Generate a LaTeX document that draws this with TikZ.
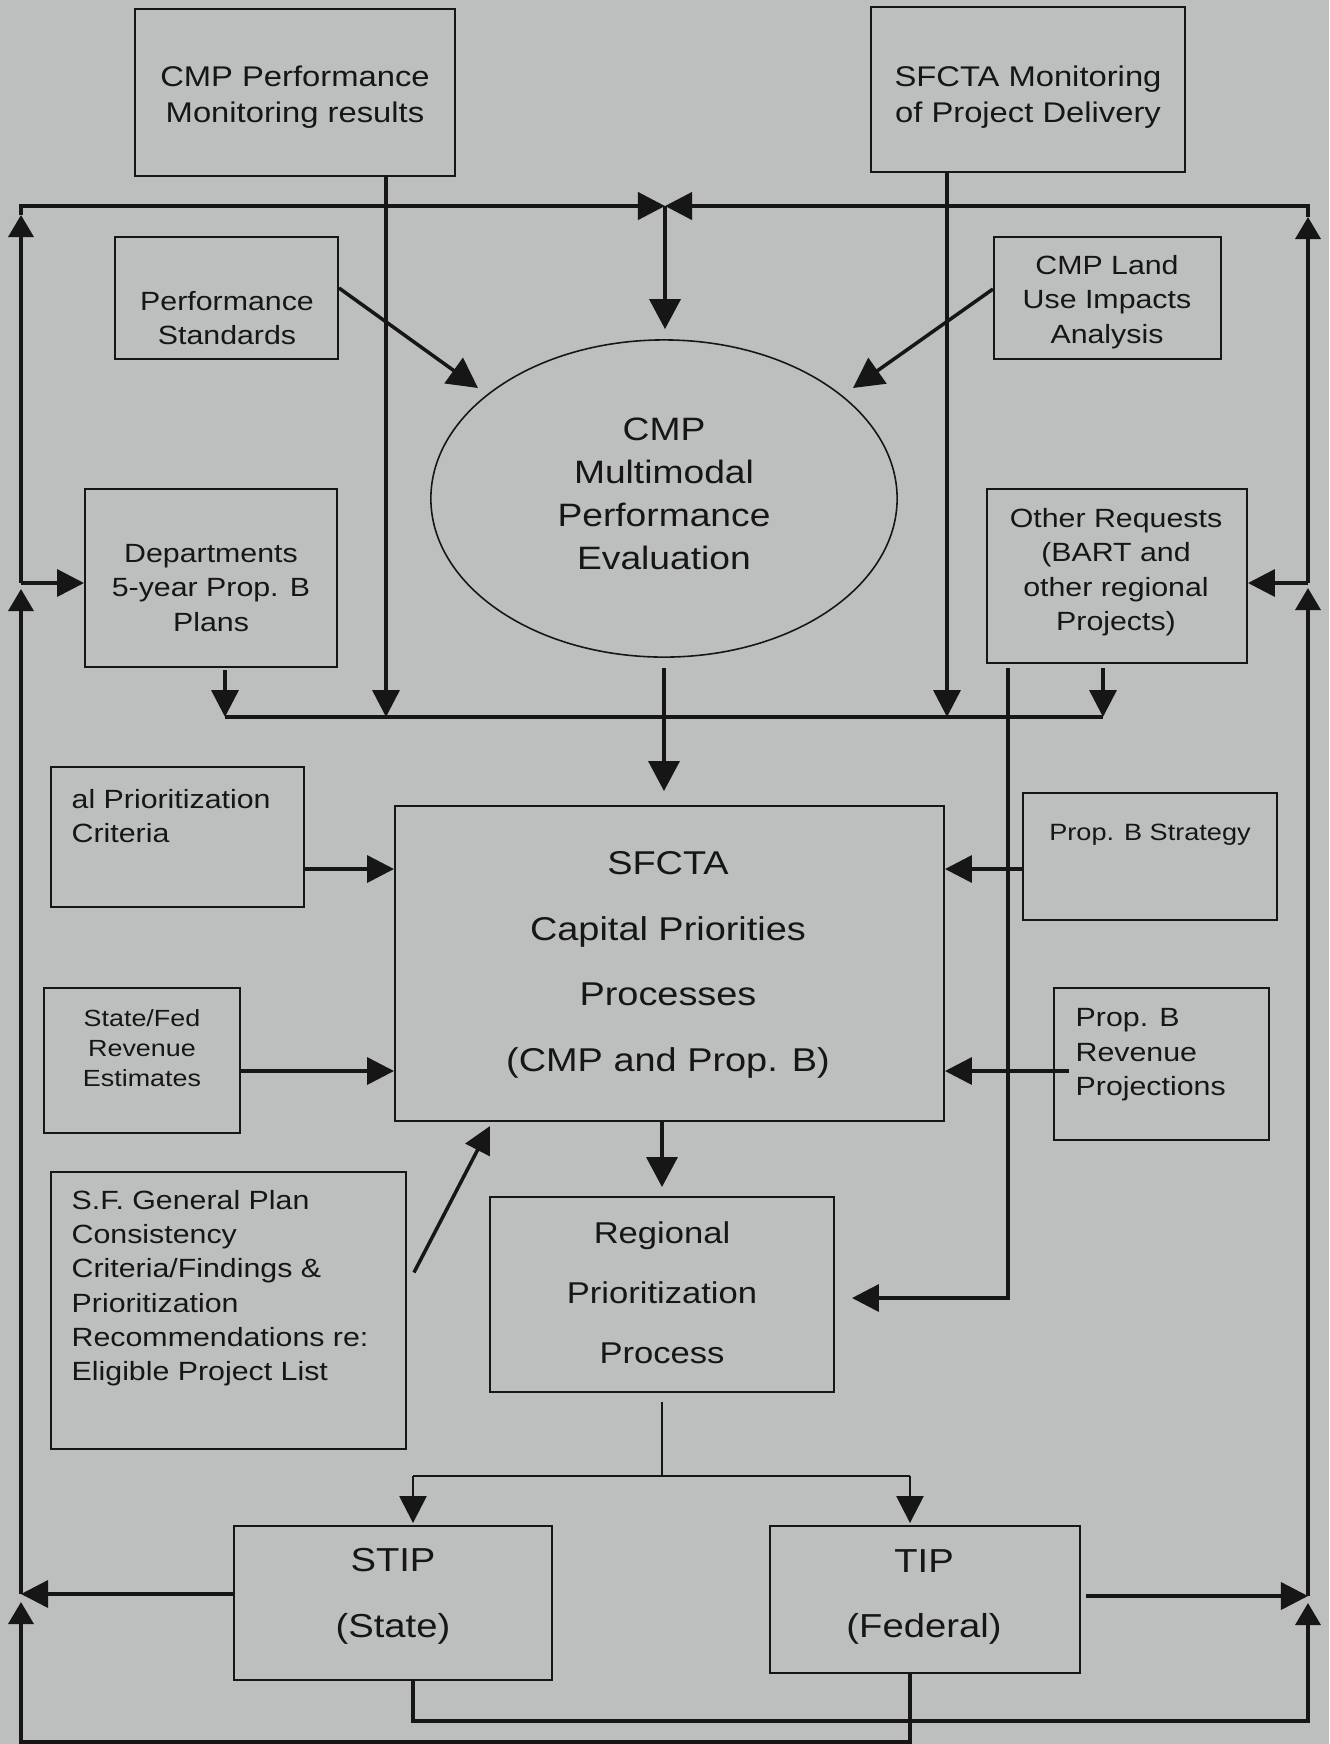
\documentclass[tikz,border=0pt]{standalone}
\usepackage{fontspec}
\setmainfont{Liberation Sans}[FakeStretch=1.15]
\usetikzlibrary{arrows.meta,calc,fit,shapes.geometric}
\definecolor{bgc}{RGB}{189,190,190}
\definecolor{ink}{RGB}{22,22,22}
\newcommand{\setfs}[2]{\fontsize{#1}{#2}\selectfont}
\begin{document}
\begin{tikzpicture}[x=0.01cm,y=-0.01cm,
  box/.style={draw=ink,line width=0.55pt,inner sep=0pt},
  txt/.style={inner sep=0pt,text=ink,align=center},
  conn/.style={draw=ink,line width=1pt},
  topconn/.style={draw=ink,line width=1.15pt},
  thinconn/.style={draw=ink,line width=0.75pt},
  arr/.style={-{Triangle[length=0.27cm,width=0.27cm]}},
  uparr/.style={-{Triangle[length=0.22cm,width=0.25cm]}},
  bigarr/.style={-{Triangle[length=0.30cm,width=0.31cm]}}]

\fill[bgc] (0,0) rectangle (1329,1744);
\useasboundingbox (0,0) rectangle (1329,1744);

% ---------- boxes ----------
\node[box,fit={(135,9)(455,176)}] (b1) {};
\node[box,fit={(871,7)(1185,172)}] (b2) {};
\node[box,fit={(115,237)(338,359)}] (b3) {};
\node[box,fit={(994,237)(1221,359)}] (b4) {};
\node[box,ellipse,line width=0.45pt,minimum width=4.66cm,minimum height=3.17cm] (ell) at (664,498.5) {};
\node[box,fit={(85,489)(337,667)}] (b6) {};
\node[box,fit={(987,489)(1247,663)}] (b7) {};
\node[box,fit={(51,767)(304,907)}] (b8) {};
\node[box,fit={(395,806)(944,1121)}] (b9) {};
\node[box,fit={(1023,793)(1277,920)}] (b10) {};
\node[box,fit={(44,988)(240,1133)}] (b11) {};
\node[box,fit={(1054,988)(1269,1140)}] (b12) {};
\node[box,fit={(51,1172)(406,1449)}] (b13) {};
\node[box,fit={(490,1197)(834,1392)}] (b14) {};
\node[box,fit={(234,1526)(552,1680)}] (b15) {};
\node[box,fit={(770,1526)(1080,1673)}] (b16) {};

% ---------- texts ----------
\node[txt,font=\setfs{8.1}{10.3}] (t1) at (295,97) {CMP Performance\\Monitoring results};
\node[txt,font=\setfs{8.1}{10.3}] (t2) at (1028,97) {SFCTA Monitoring\\of Project Delivery};
\node[txt,font=\setfs{7.5}{9.8}] (t3) at (227,318) {Performance\\Standards};
\node[txt,font=\setfs{7.5}{9.8}] (t4) at (1107,302) {CMP Land\\Use Impacts\\Analysis};
\node[txt,font=\setfs{9.2}{12.24}] (t5) at (664,494) {CMP\\Multimodal\\Performance\\Evaluation};
\node[txt,font=\setfs{7.5}{9.8}] (t6) at (211,588) {Departments\\5-year Prop. B\\Plans};
\node[txt,font=\setfs{7.5}{9.8}] (t7) at (1116,572) {Other Requests\\(BART and\\other regional\\Projects)};
\node[txt,align=left,anchor=west,font=\setfs{7.5}{9.8}] (t8) at (71,816) {al Prioritization\\Criteria};
\node[txt,font=\setfs{9.37}{18.67}] (t9) at (668,965) {SFCTA\\Capital Priorities\\Processes\\(CMP and Prop. B)};
\node[txt,font=\setfs{6.7}{8.5}] (t10) at (1150,835) {Prop. B Strategy};
\node[txt,font=\setfs{6.65}{8.54}] (t11) at (142,1048) {State/Fed\\Revenue\\Estimates};
\node[txt,align=left,anchor=west,font=\setfs{7.5}{9.8}] (t12) at (1075,1055) {Prop. B\\Revenue\\Projections};
\node[txt,align=left,anchor=west,font=\setfs{7.5}{9.76}] (t13) at (71,1288) {S.F. General Plan\\Consistency\\Criteria/Findings \&\\Prioritization\\Recommendations re:\\Eligible Project List};
\node[txt,font=\setfs{8.55}{17.07}] (t14) at (662,1293) {Regional\\Prioritization\\Process};
\node[txt,font=\setfs{9.45}{18.67}] (t15) at (393,1596) {STIP\\(State)};
\node[txt,font=\setfs{9.45}{18.67}] (t16) at (924,1597) {TIP\\(Federal)};

% ---------- named points ----------
\coordinate (ltop) at (21,206);
\coordinate (rtop) at (1308,206);
\coordinate (topmid) at (665,206);
\coordinate (lmid) at (21,583);
\coordinate (rmid) at (1308,583);
\coordinate (llow) at (21,1594);
\coordinate (rlow) at (1308,1596);
\coordinate (lbot) at (21,1742);
\coordinate (rbot) at (1308,1721);
\coordinate (v1) at (386,717);
\coordinate (v2) at (947,717);
\coordinate (v3) at (225,717);
\coordinate (v4) at (1103,717);
\coordinate (v5) at (1008,1298);
\coordinate (r1) at (0,869);
\coordinate (r2) at (0,1071);
\coordinate (r2s) at ($(b12.west |- r2)+(16,0)$);
\coordinate (e1) at (478,388);
\coordinate (e2) at (853,388);
\coordinate (sft) at (490,1126);
\coordinate (d1) at (413,1476);
\coordinate (d2) at (910,1476);

% ---------- top feedback loop ----------
\draw[conn,uparr] (lmid) -- ($(ltop)+(0,9)$);
\draw[topconn,arr] ($(ltop)+(0,9)$) -- (ltop) -- (topmid);
\draw[conn,uparr] (rmid) -- ($(rtop)+(0,11)$);
\draw[topconn,arr] ($(rtop)+(0,11)$) -- (rtop) -- (topmid);
\draw[conn,bigarr,shorten >=0.1cm] (topmid) -- (topmid |- ell.north);

% ---------- inputs to the ellipse ----------
\draw[conn,bigarr] ([yshift=0.1cm]b3.east) -- (e1);
\draw[conn,bigarr] ([yshift=0.09cm]b4.west) -- (e2);

% ---------- side feeds ----------
\draw[conn,arr] (lmid) -- (b6.west |- lmid);
\draw[conn,arr] (rmid) -- (b7.east |- rmid);

% ---------- collector ----------
\draw[conn,arr] (b1.south -| v1) -- (v1);
\draw[conn,arr] (b2.south -| v2) -- (v2);
\draw[conn,arr,shorten <=0.02cm] (b6.south -| v3) -- (v3);
\draw[conn,arr,shorten <=0.04cm] (b7.south -| v4) -- (v4);
\draw[topconn] (v3) -- (v4);
\draw[conn,bigarr,shorten <=0.1cm,shorten >=0.14cm] (ell.south) -- (ell.south |- b9.north);

% ---------- inputs to SFCTA box ----------
\draw[conn,arr] (b8.east |- r1) -- (b9.west |- r1);
\draw[conn,arr] (b10.west |- r1) -- (b9.east |- r1);
\draw[conn,arr] (b11.east |- r2) -- (b9.west |- r2);
\draw[conn,arr] (r2s) -- (b9.east |- r2);
\draw[conn,arr] ([xshift=0.07cm,yshift=0.38cm]b13.east) -- (sft);

% ---------- other requests to regional ----------
\draw[conn,arr,shorten <=0.04cm,shorten >=0.17cm] (b7.south -| v5) -- (v5) -- (b14.east |- v5);

% ---------- SFCTA to regional ----------
\draw[conn,bigarr,shorten >=0.09cm] (b9.south -| b14.north) -- (b14.north);

% ---------- regional to STIP / TIP ----------
\draw[thinconn,shorten <=0.09cm] (b14.south) -- (b14.south |- d1);
\draw[thinconn] (d1) -- (d2);
\draw[thinconn,arr,shorten >=0.02cm] (d1) -- (b15.north -| d1);
\draw[thinconn,arr,shorten >=0.02cm] (d2) -- (b16.north -| d2);

% ---------- bottom loops ----------
\draw[conn,arr] (b15.west |- llow) -- (llow);
\draw[conn,uparr] (llow) -- ($(lmid)+(0,6)$);
\draw[conn,uparr] (b16.south -| d2) -- (d2 |- lbot) -- (lbot) -- ($(llow)+(0,8)$);
\draw[conn,arr,shorten <=0.05cm] (b16.east |- rlow) -- (rlow);
\draw[conn,uparr] (rlow) -- ($(rmid)+(0,5)$);
\draw[conn,uparr] (b15.south -| d1) -- (d1 |- rbot) -- (rbot) -- ($(rlow)+(0,7)$);
\end{tikzpicture}
\end{document}
